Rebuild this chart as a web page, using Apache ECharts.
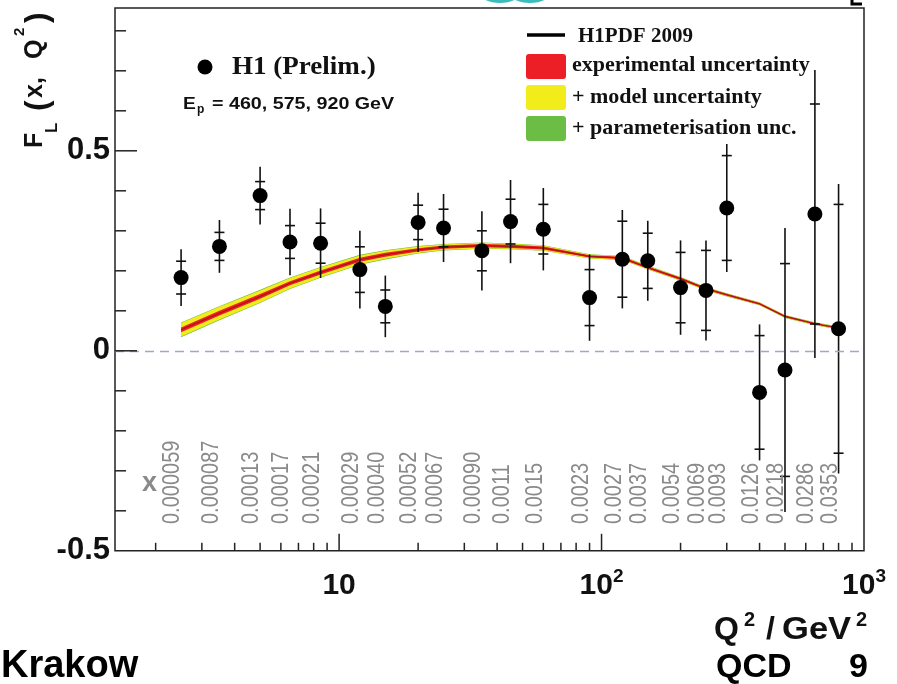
<!DOCTYPE html>
<html><head><meta charset="utf-8">
<script src="https://cdn.jsdelivr.net/npm/echarts@6/dist/echarts.min.js"></script>
<style>html,body{margin:0;padding:0;background:#fff;}#c{width:897px;height:684px;}</style>
</head><body><div id="c"></div>
<script>
// ---- data ----
const q2 = [2.5, 3.5, 5, 6.5, 8.5, 12, 15, 20, 25, 35, 45, 60, 90, 120, 150, 200, 250, 300, 400, 500, 650, 800];
const xValueLabels = ['0.000059','0.000087','0.00013','0.00017','0.00021','0.00029','0.00040','0.00052','0.00067','0.00090','0.0011','0.0015','0.0023','0.0027','0.0037','0.0054','0.0069','0.0093','0.0126','0.0218','0.0286','0.0353'];
const fl = [0.183, 0.261, 0.388, 0.272, 0.269, 0.203, 0.111, 0.321, 0.307, 0.250, 0.323, 0.304, 0.133, 0.229, 0.225, 0.158, 0.151, 0.357, -0.104, -0.048, 0.342, 0.055];
const statErr = [0.041, 0.035, 0.035, 0.041, 0.050, 0.057, 0.041, 0.043, 0.047, 0.050, 0.056, 0.062, 0.070, 0.095, 0.069, 0.088, 0.100, 0.131, 0.142, 0.266, 0.275, 0.311];
const totErr = [0.071, 0.066, 0.072, 0.083, 0.087, 0.097, 0.077, 0.074, 0.085, 0.099, 0.104, 0.103, 0.108, 0.123, 0.100, 0.118, 0.125, 0.160, 0.170, 0.355, 0.360, 0.362];
const thCenter = [0.0525, 0.094, 0.136, 0.169, 0.196, 0.2275, 0.240, 0.2525, 0.259, 0.263, 0.261, 0.257, 0.236, 0.232, 0.208, 0.180, 0.155, 0.140, 0.1175, 0.086, 0.0675, 0.057];
const thExp   = [0.006, 0.006, 0.006, 0.005, 0.005, 0.005, 0.005, 0.004, 0.004, 0.004, 0.004, 0.004, 0.003, 0.003, 0.003, 0.003, 0.0025, 0.0025, 0.0022, 0.0022, 0.002, 0.002];
const thModel = [0.011, 0.010, 0.009, 0.008, 0.007, 0.006, 0.005, 0.004, 0.003, 0.003, 0.002, 0.002, 0.0015, 0.0015, 0.0012, 0.001, 0.001, 0.0008, 0.0008, 0.0008, 0.0008, 0.0008];
const thParam = [0.0015, 0.0015, 0.0015, 0.0015, 0.0015, 0.0015, 0.0015, 0.0012, 0.001, 0.001, 0.001, 0.0008, 0.0008, 0.0008, 0.0008, 0.0008, 0.0008, 0.0008, 0.0008, 0.0008, 0.0008, 0.0008];
const xMin = 1.4, xMax = 1000, yMin = -0.5, yMax = 0.857;
const xTickValues = [10, 100, 1000];
const xTickBase = ['10', '10', '10'];
const xTickExps = ['', '2', '3'];
const xMinorTickValues = [2,3,4,5,6,7,8,9,20,30,40,50,60,70,80,90,200,300,400,500,600,700,800,900];
const xMajorTickValues = [10, 100];
const yTickValues = [-0.5, 0, 0.5];
const yTickLabels = ['-0.5', '0', '0.5'];
const yMinorTickValues = [-0.4,-0.3,-0.2,-0.1,0.1,0.2,0.3,0.4,0.6,0.7,0.8];
const yMajorTickValues = [0, 0.5];
const legendItems = ['experimental uncertainty', '+ model uncertainty', '+ parameterisation unc.'];

// ---- chart ----
const SANS = 'Liberation Sans, Arial, sans-serif';
const SERIF = 'Liberation Serif, Times New Roman, serif';
const RED = '#ec1f26', YEL = '#f3ec1b', GRN = '#6bbd45';
const chart = echarts.init(document.getElementById('c'), null, {renderer: 'canvas'});

function bandPoints(api, lo, hi) {
  const pts = [];
  for (let i = 0; i < q2.length; i++) pts.push(api.coord([q2[i], lo[i]]));
  for (let i = q2.length - 1; i >= 0; i--) pts.push(api.coord([q2[i], hi[i]]));
  return pts;
}

function tickSeries(values, isX, len) {
  return {
    type: 'custom', silent: true, z: 5,
    data: values.map(v => isX ? [v, yMin] : [xMin, v]),
    renderItem: function (params, api) {
      const p = api.coord([api.value(0), api.value(1)]);
      const shape = isX ? {x1: p[0], y1: p[1], x2: p[0], y2: p[1] - len}
                        : {x1: p[0], y1: p[1], x2: p[0] + len, y2: p[1]};
      return {type: 'line', shape: shape, style: {stroke: '#222', lineWidth: 1.5}};
    }
  };
}

const option = {
  animation: false,
  backgroundColor: '#fff',
  grid: {left: 115, top: 8, width: 749, height: 542.8, show: true, borderColor: '#222', borderWidth: 1.5, backgroundColor: 'transparent'},
  xAxis: {
    type: 'log', logBase: 10, min: xMin, max: xMax,
    axisLine: {show: false}, axisTick: {show: false}, splitLine: {show: false},
    axisLabel: {
      margin: 16,
      formatter: function (v) {
        const i = xTickValues.findIndex(t => Math.abs(t - v) < 1e-6 * t);
        if (i < 0) return '';
        return xTickExps[i] ? '{b|' + xTickBase[i] + '}{s|' + xTickExps[i] + '}' : '{b|' + xTickBase[i] + '}';
      },
      rich: {
        b: {fontSize: 30, fontWeight: 'bold', fontFamily: SANS, color: '#111', verticalAlign: 'bottom', lineHeight: 34},
        s: {fontSize: 19, fontWeight: 'bold', fontFamily: SANS, color: '#111', verticalAlign: 'top', lineHeight: 20}
      }
    }
  },
  yAxis: {
    type: 'value', min: yMin, max: yMax, interval: 0.5,
    axisLine: {show: false}, axisTick: {show: false}, splitLine: {show: false},
    axisLabel: {
      margin: 5, fontSize: 31, fontWeight: 'bold', fontFamily: SANS, color: '#111',
      formatter: function (v) {
        const i = yTickValues.findIndex(t => Math.abs(t - v) < 1e-9);
        return i < 0 ? '' : yTickLabels[i];
      }
    }
  },
  series: [
    { // uncertainty bands
      type: 'custom', silent: true, z: 1,
      data: [[q2[0], thCenter[0]]],
      renderItem: function (params, api) {
        const gLo = [], gHi = [], yLo = [], yHi = [], rLo = [], rHi = [];
        for (let i = 0; i < q2.length; i++) {
          const e = thExp[i], m = e + thModel[i], p = m + thParam[i];
          gLo.push(thCenter[i] - p); gHi.push(thCenter[i] + p);
          yLo.push(thCenter[i] - m); yHi.push(thCenter[i] + m);
          rLo.push(thCenter[i] - e); rHi.push(thCenter[i] + e);
        }
        return {type: 'group', children: [
          {type: 'polygon', shape: {points: bandPoints(api, gLo, gHi)}, style: {fill: GRN}},
          {type: 'polygon', shape: {points: bandPoints(api, yLo, yHi)}, style: {fill: YEL}},
          {type: 'polygon', shape: {points: bandPoints(api, rLo, rHi)}, style: {fill: RED}}
        ]};
      }
    },
    { // central theory line + zero line
      type: 'line', z: 2, silent: true, showSymbol: false, symbol: 'none',
      data: q2.map((q, i) => [q, thCenter[i]]),
      lineStyle: {color: '#a8141a', width: 1.1},
      markLine: {
        silent: true, symbol: 'none', label: {show: false},
        lineStyle: {color: '#a4a4cc', width: 1.3, type: [9, 6]},
        data: [{yAxis: 0}]
      }
    },
    { // error bars
      type: 'custom', z: 3, silent: true,
      data: q2.map((q, i) => [q, fl[i], statErr[i], totErr[i]]),
      encode: {x: 0, y: 1},
      renderItem: function (params, api) {
        const q = api.value(0), f = api.value(1), s = api.value(2), t = api.value(3);
        const top = api.coord([q, f + t]), bot = api.coord([q, f - t]);
        const sT = api.coord([q, f + s]), sB = api.coord([q, f - s]);
        const st = {stroke: '#111', lineWidth: 1.6};
        return {type: 'group', children: [
          {type: 'line', shape: {x1: top[0], y1: top[1], x2: bot[0], y2: bot[1]}, style: st},
          {type: 'line', shape: {x1: sT[0] - 5, y1: sT[1], x2: sT[0] + 5, y2: sT[1]}, style: st},
          {type: 'line', shape: {x1: sB[0] - 5, y1: sB[1], x2: sB[0] + 5, y2: sB[1]}, style: st}
        ]};
      }
    },
    { // data points
      type: 'scatter', z: 4, symbol: 'circle', symbolSize: 15, silent: true,
      itemStyle: {color: '#000', opacity: 1},
      data: q2.map((q, i) => [q, fl[i]])
    },
    { // x-value labels (rotated, grey)
      type: 'custom', z: 4, silent: true,
      data: q2.map((q, i) => [q, yMin]),
      renderItem: function (params, api) {
        const p = api.coord([api.value(0), api.value(1)]);
        return {type: 'text', x: p[0] - 8, y: 524, rotation: Math.PI / 2, scaleY: 1.15,
          style: {text: xValueLabels[params.dataIndex], fontSize: 20, fontFamily: SANS, fill: '#8a8a8a', align: 'left', verticalAlign: 'middle'}};
      }
    },
    tickSeries(xMinorTickValues, true, 8),
    tickSeries(xMajorTickValues, true, 17),
    tickSeries(yMinorTickValues, false, 11),
    tickSeries(yMajorTickValues, false, 22)
  ],
  graphic: {elements: [
    // y axis title
    {type: 'text', z: 10, x: 35, y: 148, rotation: Math.PI/2, style: {text: 'F', fontSize: 25, fontWeight: 'bold', fontFamily: SANS, fill: '#111', align: 'left', verticalAlign: 'middle'}},
    {type: 'text', z: 10, x: 52, y: 133, rotation: Math.PI/2, style: {text: 'L', fontSize: 17, fontWeight: 'bold', fontFamily: SANS, fill: '#111', align: 'left', verticalAlign: 'middle'}},
    {type: 'text', z: 10, x: 38, y: 111, rotation: Math.PI/2, style: {text: '(', fontSize: 32, fontWeight: 'bold', fontFamily: SANS, fill: '#111', align: 'left', verticalAlign: 'middle'}},
    {type: 'text', z: 10, x: 35, y: 98, rotation: Math.PI/2, style: {text: 'x,', fontSize: 25, fontWeight: 'bold', fontFamily: SANS, fill: '#111', align: 'left', verticalAlign: 'middle'}},
    {type: 'text', z: 10, x: 35, y: 59, rotation: Math.PI/2, style: {text: 'Q', fontSize: 25, fontWeight: 'bold', fontFamily: SANS, fill: '#111', align: 'left', verticalAlign: 'middle'}},
    {type: 'text', z: 10, x: 20, y: 36, rotation: Math.PI/2, style: {text: '2', fontSize: 15, fontWeight: 'bold', fontFamily: SANS, fill: '#111', align: 'left', verticalAlign: 'middle'}},
    {type: 'text', z: 10, x: 38, y: 23, rotation: Math.PI/2, style: {text: ')', fontSize: 32, fontWeight: 'bold', fontFamily: SANS, fill: '#111', align: 'left', verticalAlign: 'middle'}},
    // x axis title
    {type: 'text', z: 10, x: 714, y: 630, style: {text: 'Q', fontSize: 32, fontWeight: 'bold', fontFamily: SANS, fill: '#111', align: 'left', verticalAlign: 'middle'}},
    {type: 'text', z: 10, x: 744, y: 620, style: {text: '2', fontSize: 20, fontWeight: 'bold', fontFamily: SANS, fill: '#111', align: 'left', verticalAlign: 'middle'}},
    {type: 'text', z: 10, x: 766, y: 630, style: {text: '/', fontSize: 32, fontWeight: 'bold', fontFamily: SANS, fill: '#111', align: 'left', verticalAlign: 'middle'}},
    {type: 'text', z: 10, x: 782, y: 630, scaleX: 1.08, style: {text: 'GeV', fontSize: 32, fontWeight: 'bold', fontFamily: SANS, fill: '#111', align: 'left', verticalAlign: 'middle'}},
    {type: 'text', z: 10, x: 856, y: 620, style: {text: '2', fontSize: 20, fontWeight: 'bold', fontFamily: SANS, fill: '#111', align: 'left', verticalAlign: 'middle'}},
    // 'x' marker for value labels
    {type: 'text', z: 10, x: 142, y: 484, style: {text: 'x', fontSize: 27, fontWeight: 'bold', fontFamily: SANS, fill: '#8a8a8a', align: 'left', verticalAlign: 'middle'}},
    // data legend (top-left)
    {type: 'circle', z: 10, shape: {cx: 205, cy: 67, r: 7.5}, style: {fill: '#000'}},
    {type: 'text', z: 10, x: 232, y: 67, scaleX: 1.04, style: {text: 'H1 (Prelim.)', fontSize: 26, fontWeight: 'bold', fontFamily: SERIF, fill: '#111', align: 'left', verticalAlign: 'middle'}},
    {type: 'text', z: 10, x: 183, y: 105, scaleX: 1.2, style: {text: 'E', fontSize: 16, fontWeight: 'bold', fontFamily: SANS, fill: '#111', align: 'left', verticalAlign: 'middle'}},
    {type: 'text', z: 10, x: 197, y: 110, style: {text: 'p', fontSize: 12, fontWeight: 'bold', fontFamily: SANS, fill: '#111', align: 'left', verticalAlign: 'middle'}},
    {type: 'text', z: 10, x: 212, y: 105, scaleX: 1.23, style: {text: '= 460, 575, 920 GeV', fontSize: 16, fontWeight: 'bold', fontFamily: SANS, fill: '#111', align: 'left', verticalAlign: 'middle'}},
    // theory legend (top-right)
    {type: 'line', z: 10, shape: {x1: 527, y1: 35, x2: 565, y2: 35}, style: {stroke: '#000', lineWidth: 3.5}},
    {type: 'text', z: 10, x: 578, y: 37, style: {text: 'H1PDF 2009', fontSize: 21, fontWeight: 'bold', fontFamily: SERIF, fill: '#111', align: 'left', verticalAlign: 'middle'}},
    {type: 'rect', z: 10, shape: {x: 526, y: 54, width: 40, height: 25, r: 3}, style: {fill: RED}},
    {type: 'rect', z: 10, shape: {x: 526, y: 85, width: 40, height: 25, r: 3}, style: {fill: YEL}},
    {type: 'rect', z: 10, shape: {x: 526, y: 116, width: 40, height: 25, r: 3}, style: {fill: GRN}},
    {type: 'text', z: 10, x: 572, y: 65, style: {text: legendItems[0], fontSize: 22, fontWeight: 'bold', fontFamily: SERIF, fill: '#111', align: 'left', verticalAlign: 'middle'}},
    {type: 'text', z: 10, x: 572, y: 97, style: {text: legendItems[1], fontSize: 22, fontWeight: 'bold', fontFamily: SERIF, fill: '#111', align: 'left', verticalAlign: 'middle'}},
    {type: 'text', z: 10, x: 572, y: 128, style: {text: legendItems[2], fontSize: 22, fontWeight: 'bold', fontFamily: SERIF, fill: '#111', align: 'left', verticalAlign: 'middle'}},
    // slide decorations
    {type: 'ellipse', z: 10, shape: {cx: 500, cy: -8, rx: 21, ry: 11}, style: {fill: '#3cbcbc'}},
    {type: 'ellipse', z: 10, shape: {cx: 530, cy: -8, rx: 21, ry: 11}, style: {fill: '#3cbcbc'}},
    {type: 'polyline', z: 10, shape: {points: [[852, 0], [852, 4], [862, 4]]}, style: {stroke: '#000', lineWidth: 3, fill: null}},
    // footer
    {type: 'text', z: 10, x: 1, y: 667, style: {text: 'Krakow', fontSize: 38, fontWeight: 'bold', fontFamily: SANS, fill: '#000', align: 'left', verticalAlign: 'middle'}},
    {type: 'text', z: 10, x: 716, y: 668, style: {text: 'QCD', fontSize: 34, fontWeight: 'bold', fontFamily: SANS, fill: '#000', align: 'left', verticalAlign: 'middle'}},
    {type: 'text', z: 10, x: 849, y: 668, style: {text: '9', fontSize: 34, fontWeight: 'bold', fontFamily: SANS, fill: '#000', align: 'left', verticalAlign: 'middle'}}
  ]}
};
chart.setOption(option);
</script>
</body></html>
